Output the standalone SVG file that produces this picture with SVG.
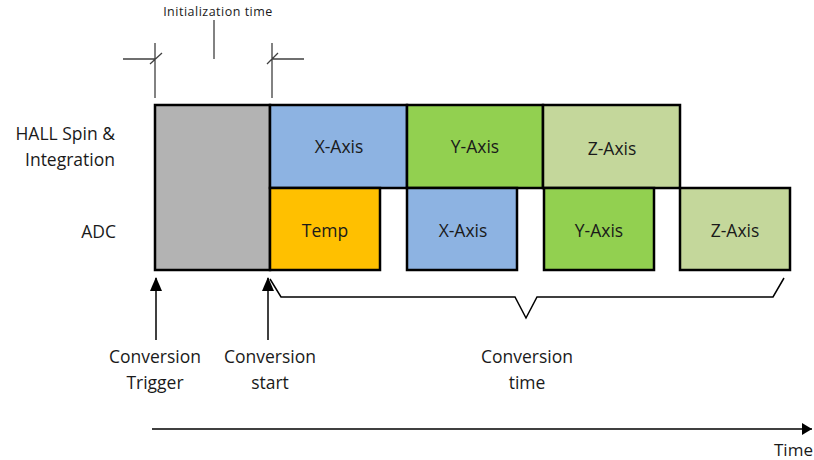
<svg xmlns="http://www.w3.org/2000/svg" width="814" height="460" viewBox="0 0 814 460">
<style>
text{font-family:"Open Sans","Liberation Sans",sans-serif;fill:#1a1a1a}
.lbl{font-size:17.5px;text-anchor:middle}
.side{font-size:17.5px;text-anchor:end}
.box{stroke:#000;stroke-width:2.5}
.thin{stroke:#404040;stroke-width:1.3;fill:none}
.line{stroke:#000;stroke-width:1.5;fill:none}
</style>
<defs>
<marker id="ah" markerWidth="12" markerHeight="14" refX="6" refY="1" orient="0" markerUnits="userSpaceOnUse" viewBox="0 0 12 14">
<path d="M6,0 L12,14 L0,14 Z" fill="#000"/>
</marker>
<marker id="ar" markerWidth="10" markerHeight="12" refX="10" refY="6" orient="auto" markerUnits="userSpaceOnUse" viewBox="0 0 10 12">
<path d="M0,0 L10,6 L0,12 Z" fill="#000"/>
</marker>
</defs>
<g id="init-marker">
<text x="218" y="16" style="font-size:12.5px;text-anchor:middle;letter-spacing:0.5px">Initialization time</text>
<path class="thin" d="M214,20 V59 M155,43 V98 M123,59 H155 M150,64 L162,53 M272,43 V98 M272,59 H304 M267,64 L278,53"/>
</g>
<g id="row-labels">
<text class="side" x="115" y="140">HALL Spin &amp;</text>
<text class="side" x="115" y="166">Integration</text>
<text class="side" x="116" y="238">ADC</text>
</g>
<g id="init-block"><rect class="box" x="155" y="105" width="115" height="165" fill="#b3b3b3"/></g>
<g id="hall-x"><rect class="box" x="270" y="105" width="137" height="83" fill="#8db3e2"/><text class="lbl" x="339" y="153">X-Axis</text></g>
<g id="hall-y"><rect class="box" x="407" y="105" width="136" height="83" fill="#92d050"/><text class="lbl" x="475" y="153">Y-Axis</text></g>
<g id="hall-z"><rect class="box" x="543" y="105" width="137" height="83" fill="#c4d79b"/><text class="lbl" x="612" y="155">Z-Axis</text></g>
<g id="adc-temp"><rect class="box" x="270" y="188" width="110" height="82" fill="#ffc000"/><text class="lbl" x="325" y="237">Temp</text></g>
<g id="adc-x"><rect class="box" x="407" y="188" width="110" height="82" fill="#8db3e2"/><text class="lbl" x="463" y="237">X-Axis</text></g>
<g id="adc-y"><rect class="box" x="544" y="188" width="110" height="82" fill="#92d050"/><text class="lbl" x="599" y="237">Y-Axis</text></g>
<g id="adc-z"><rect class="box" x="680" y="188" width="110" height="82" fill="#c4d79b"/><text class="lbl" x="735" y="237">Z-Axis</text></g>
<g id="connectors">
<path class="line" d="M156,340 V278" marker-end="url(#ah)"/>
<path class="line" d="M268,340 V278" marker-end="url(#ah)"/>
<path class="line" d="M270,279 L281,297 H515 L526,318 L537,297 H773 L784,278"/>
<path class="line" d="M152,429 H812" marker-end="url(#ar)"/>
</g>
<g id="event-labels">
<text class="lbl" x="155" y="363">Conversion</text>
<text class="lbl" x="155" y="389">Trigger</text>
<text class="lbl" x="270" y="363">Conversion</text>
<text class="lbl" x="270" y="389">start</text>
<text class="lbl" x="527" y="363">Conversion</text>
<text class="lbl" x="527" y="389">time</text>
<text x="774" y="456" style="font-size:17px">Time</text>
</g>
</svg>
